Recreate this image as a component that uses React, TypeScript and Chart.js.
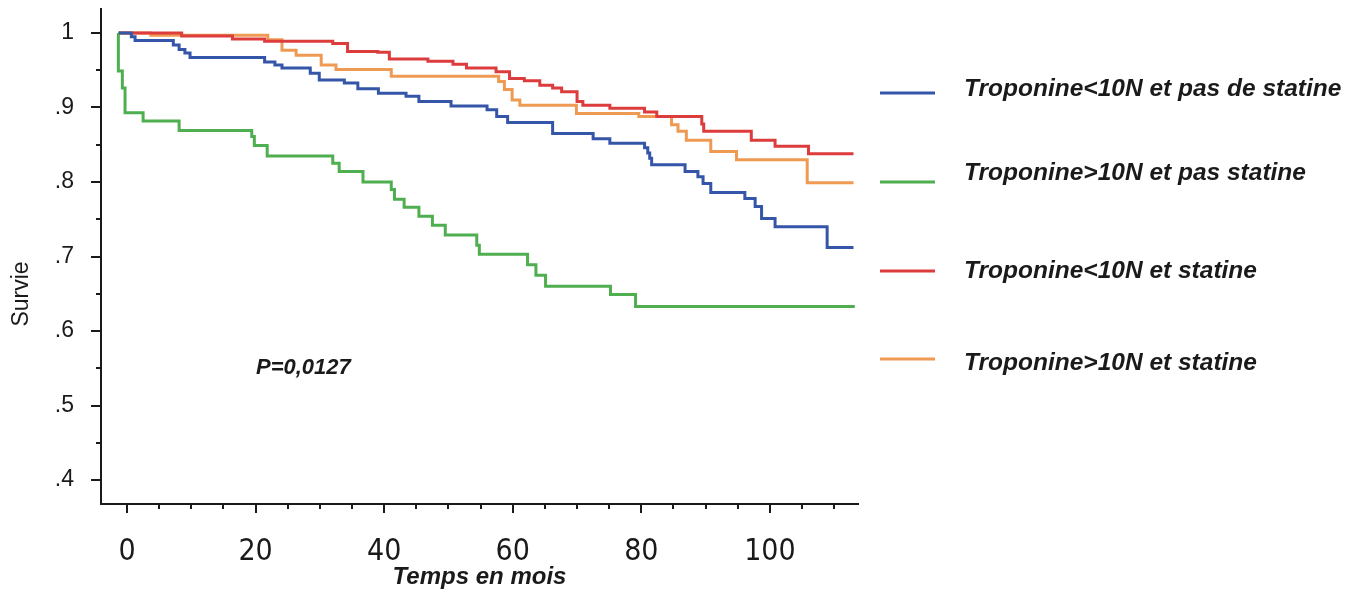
import React, { useEffect, useRef } from "react";
import { Chart, registerables } from "chart.js";

Chart.register(...registerables);

// ---- Data (read from the Kaplan–Meier picture) ----
const seriesLabels = [
  "Troponine<10N et pas de statine",
  "Troponine>10N et pas statine",
  "Troponine<10N et statine",
  "Troponine>10N et statine",
];

const blueTimes = [-1.25, 0.67, 1.25, 7.2, 8.1, 9.0, 9.8, 21.4, 23.0, 24.1, 28.5, 29.9, 33.8, 35.9, 39.1, 43.4, 45.4, 50.4, 56.0, 57.5, 59.2, 66.2, 72.5, 75.1, 80.5, 81.0, 81.3, 81.6, 86.8, 88.8, 89.6, 90.8, 96.1, 97.7, 98.7, 100.8, 108.9, 113.0];
const blueSurv = [1.0, 0.995, 0.99, 0.984, 0.978, 0.973, 0.967, 0.961, 0.957, 0.953, 0.946, 0.937, 0.933, 0.925, 0.919, 0.915, 0.908, 0.902, 0.897, 0.888, 0.88, 0.865, 0.858, 0.852, 0.846, 0.839, 0.832, 0.823, 0.814, 0.807, 0.798, 0.786, 0.778, 0.767, 0.751, 0.74, 0.712, 0.712];

const greenTimes = [-1.4, -1.35, -0.73, -0.31, 2.5, 8.1, 19.4, 19.8, 21.8, 32.0, 33.0, 36.7, 41.1, 41.6, 43.1, 45.4, 47.5, 49.5, 54.4, 54.8, 62.3, 63.6, 65.1, 75.2, 79.1, 113.2];
const greenSurv = [1.0, 0.949, 0.926, 0.893, 0.882, 0.869, 0.861, 0.849, 0.835, 0.825, 0.814, 0.8, 0.79, 0.777, 0.766, 0.754, 0.742, 0.729, 0.715, 0.703, 0.689, 0.675, 0.66, 0.649, 0.633, 0.633];

const redTimes = [-1.25, 8.5, 16.4, 21.4, 32.0, 34.3, 39.0, 40.8, 46.8, 50.7, 52.8, 57.4, 59.5, 61.8, 64.2, 66.2, 67.6, 70.0, 70.9, 75.1, 80.5, 82.4, 89.4, 89.7, 97.1, 100.8, 106.0, 113.0];
const redSurv = [1.0, 0.996, 0.992, 0.989, 0.986, 0.975, 0.974, 0.965, 0.962, 0.958, 0.953, 0.948, 0.939, 0.936, 0.93, 0.926, 0.921, 0.908, 0.903, 0.899, 0.894, 0.888, 0.878, 0.868, 0.856, 0.848, 0.838, 0.838];

const orangeTimes = [-1.25, 3.7, 21.9, 24.1, 26.3, 30.2, 32.5, 41.1, 57.8, 58.7, 59.9, 61.1, 69.9, 79.6, 84.7, 85.7, 87.0, 90.8, 94.8, 105.8, 113.0];
const orangeSurv = [1.0, 0.997, 0.991, 0.977, 0.97, 0.957, 0.951, 0.942, 0.935, 0.924, 0.91, 0.903, 0.892, 0.888, 0.877, 0.868, 0.856, 0.841, 0.83, 0.799, 0.799];

const xMajorTicks = [0, 20, 40, 60, 80, 100];
const xMinorTicks = [5, 10, 15, 25, 30, 35, 45, 50, 55, 65, 70, 75, 85, 90, 95, 105, 110];
const yMajorTicks = [0.4, 0.5, 0.6, 0.7, 0.8, 0.9, 1.0];
const yMajorLabels = [".4", ".5", ".6", ".7", ".8", ".9", "1"];
const yMinorTicks = [0.45, 0.55, 0.65, 0.75, 0.85, 0.95];

const pValueText = "P=0,0127";
const xAxisTitle = "Temps en mois";
const yAxisTitle = "Survie";

// ---- Styles ----
const seriesColors = ["#3556a8", "#4fae4f", "#dc3c3c", "#ef9a52"];
const FONT = "'Liberation Sans', Arial, sans-serif";
const legendLayout = {
  lineX0: 880,
  lineX1: 935,
  textX: 964,
  lineY: [93, 182, 271, 359],
  textY: [89, 173, 271, 363],
};

const toPoints = (t: number[], s: number[]) => t.map((x, i) => ({ x, y: s[i] }));

const near = (a: number, b: number) => Math.abs(a - b) < 1e-6;

const decorPlugin = {
  id: "decor",
  afterDraw(chart: any) {
    const ctx = chart.ctx as CanvasRenderingContext2D;
    const xs = chart.scales.x;
    const ys = chart.scales.y;
    const area = chart.chartArea;
    ctx.save();
    ctx.strokeStyle = "#1a1a1a";
    ctx.lineWidth = 2;
    const drawX = (v: number, len: number) => {
      const px = Math.round(xs.getPixelForValue(v));
      ctx.beginPath();
      ctx.moveTo(px, area.bottom);
      ctx.lineTo(px, area.bottom + len);
      ctx.stroke();
    };
    xMajorTicks.forEach((v) => drawX(v, 9));
    xMinorTicks.forEach((v) => drawX(v, 5));
    const drawY = (v: number, len: number) => {
      const py = Math.round(ys.getPixelForValue(v));
      ctx.beginPath();
      ctx.moveTo(area.left, py);
      ctx.lineTo(area.left - len, py);
      ctx.stroke();
    };
    yMajorTicks.forEach((v) => drawY(v, 10));
    yMinorTicks.forEach((v) => drawY(v, 5));

    // y title
    ctx.save();
    ctx.translate(22, 294);
    ctx.rotate(-Math.PI / 2);
    ctx.fillStyle = "#1a1a1a";
    ctx.font = `23px ${FONT}`;
    ctx.textAlign = "center";
    ctx.textBaseline = "middle";
    ctx.fillText(yAxisTitle, 0, 0);
    ctx.restore();

    // p-value
    ctx.fillStyle = "#1a1a1a";
    ctx.font = `italic bold 22px ${FONT}`;
    ctx.textAlign = "left";
    ctx.textBaseline = "middle";
    ctx.fillText(pValueText, 256, 368);

    // legend
    chart.data.datasets.forEach((ds: any, i: number) => {
      ctx.strokeStyle = ds.borderColor;
      ctx.lineWidth = 3;
      ctx.beginPath();
      ctx.moveTo(legendLayout.lineX0, legendLayout.lineY[i]);
      ctx.lineTo(legendLayout.lineX1, legendLayout.lineY[i]);
      ctx.stroke();
      ctx.fillStyle = "#1a1a1a";
      ctx.font = `italic bold 24.5px ${FONT}`;
      ctx.textBaseline = "middle";
      ctx.fillText(ds.label, legendLayout.textX, legendLayout.textY[i]);
    });
    ctx.restore();
  },
};

export default function App() {
  const canvasRef = useRef<HTMLCanvasElement | null>(null);

  useEffect(() => {
    if (!canvasRef.current) return;
    const seriesData = [
      toPoints(blueTimes, blueSurv),
      toPoints(greenTimes, greenSurv),
      toPoints(redTimes, redSurv),
      toPoints(orangeTimes, orangeSurv),
    ];
    const chart = new Chart(canvasRef.current, {
      type: "line",
      data: {
        datasets: seriesData.map((d, i) => ({
          label: seriesLabels[i],
          data: d,
          borderColor: seriesColors[i],
          backgroundColor: seriesColors[i],
          borderWidth: 3,
          pointRadius: 0,
          stepped: true,
          fill: false,
        })),
      },
      options: {
        responsive: false,
        animation: false,
        devicePixelRatio: 1,
        layout: { padding: { top: 9, right: 501, left: 0, bottom: 0 } },
        plugins: {
          legend: { display: false },
          tooltip: { enabled: false },
        },
        scales: {
          x: {
            type: "linear",
            min: -4.05,
            max: 113.7,
            afterBuildTicks: (s: any) => {
              s.ticks = [...xMajorTicks].map((v) => ({ value: v }));
            },
            afterFit: (s: any) => {
              s.height = 95;
              s.paddingLeft = 0;
              s.paddingRight = 0;
              s.paddingTop = 0;
              s.paddingBottom = 0;
            },
            grid: { display: true, drawOnChartArea: false, drawTicks: false },
            border: { display: true, color: "#1a1a1a", width: 2 },
            ticks: {
              autoSkip: false,
              maxRotation: 0,
              padding: 30,
              color: "#1a1a1a",
              font: { family: "'Liberation Sans Narrow', 'DejaVu Sans Condensed', 'Liberation Sans', sans-serif", size: 30 },
              callback: (v: any) => String(v),
            },
            title: {
              display: true,
              text: xAxisTitle,
              color: "#1a1a1a",
              font: { family: FONT, size: 24, style: "italic", weight: "bold" },
              padding: { top: 0, bottom: 7 },
            },
          },
          y: {
            type: "linear",
            min: 0.3678,
            max: 1.0322,
            afterBuildTicks: (s: any) => {
              s.ticks = yMajorTicks.map((v) => ({ value: v }));
            },
            afterFit: (s: any) => {
              s.width = 101;
              s.paddingLeft = 0;
              s.paddingRight = 0;
              s.paddingTop = 0;
              s.paddingBottom = 0;
            },
            grid: { display: true, drawOnChartArea: false, drawTicks: false },
            border: { display: true, color: "#1a1a1a", width: 2 },
            ticks: {
              padding: 27,
              color: "#1a1a1a",
              font: { family: FONT, size: 23 },
              callback: (v: any) => {
                const idx = yMajorTicks.findIndex((m) => near(m, Number(v)));
                return idx >= 0 ? yMajorLabels[idx] : "";
              },
            },
          },
        },
      },
      plugins: [decorPlugin],
    });
    return () => chart.destroy();
  }, []);

  return (
    <div style={{ position: "absolute", left: 0, top: 0, width: 1359, height: 599, background: "#fff" }}>
      <canvas ref={canvasRef} width={1359} height={599} />
    </div>
  );
}
